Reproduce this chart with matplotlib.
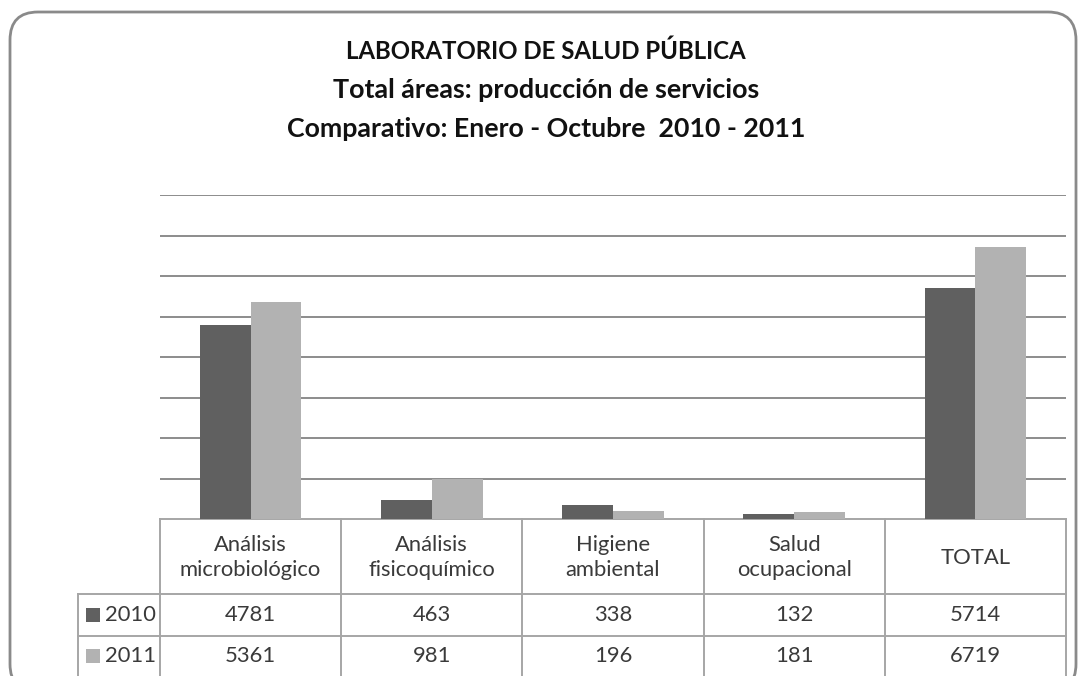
import numpy as np
import matplotlib.pyplot as plt
from matplotlib.patches import FancyBboxPatch, Rectangle

# data
categories = ['Análisis\nmicrobiológico', 'Análisis\nfisicoquímico', 'Higiene\nambiental',
              'Salud\nocupacional', 'TOTAL']
series_names = ['2010', '2011']
values_2010 = [4781, 463, 338, 132, 5714]
values_2011 = [5361, 981, 196, 181, 6719]
title_lines = ['LABORATORIO DE SALUD PÚBLICA',
               'Total áreas: producción de servicios',
               'Comparativo: Enero - Octubre  2010 - 2011']

colors = ['#606060', '#b2b2b2']
plt.rcParams['font.family'] = ['Lato', 'DejaVu Sans']

W, H = 1078, 676
fig = plt.figure(figsize=(W / 100, H / 100), dpi=100)

# overlay axes in pixel coordinates for frame, title and data table
ov = fig.add_axes([0, 0, 1, 1])
ov.set_xlim(0, W)
ov.set_ylim(H, 0)
ov.axis('off')

frame = FancyBboxPatch((10, 12), 1066, 680, boxstyle='round,pad=0,rounding_size=28',
                       facecolor='white', edgecolor='#8a8a8a', linewidth=2, zorder=0)
ov.add_patch(frame)

for txt, y, fs in zip(title_lines, [51, 90, 129], [17.3, 19.4, 19.3]):
    ov.text(W / 2 + 7, y, txt, ha='center', va='center', fontsize=fs,
            fontweight='bold', color='#111111')

# bar chart axes
left, right, top, base = 160, 1066, 195, 519
ax = fig.add_axes([left / W, 1 - base / H, (right - left) / W, (base - top) / H])
ax.set_facecolor('none')
n = len(categories)
x = np.arange(n) + 0.5
bw = 0.28
ax.bar(x - bw / 2, values_2010, bw, color=colors[0], zorder=3)
ax.bar(x + bw / 2, values_2011, bw, color=colors[1], zorder=3)
ax.set_xlim(0, n)
ax.set_ylim(0, 8000)
for g in range(1000, 8001, 1000):
    ax.axhline(g, color='#8c8c8c', linewidth=1.4, zorder=1)
for s in ax.spines.values():
    s.set_visible(False)
ax.set_xticks([])
ax.set_yticks([])

# data table
col_w = (right - left) / n
line_kw = dict(color='#a6a6a6', linewidth=1.4, zorder=2)
ov.plot([left, right], [base, base], **line_kw)
for yy in [594, 636]:
    ov.plot([78, right], [yy, yy], **line_kw)
for i in range(n + 1):
    ov.plot([left + i * col_w] * 2, [base, H], **line_kw)
ov.plot([78, 78], [594, H], **line_kw)

tcol = '#3a3a3a'
fs_t = 15.8
for i, cat in enumerate(categories):
    cx = left + (i + 0.5) * col_w
    ov.text(cx, (base + 594) / 2 + 1, cat, ha='center', va='center', fontsize=fs_t,
            color=tcol, linespacing=1.3)
    ov.text(cx, (594 + 636) / 2, str(values_2010[i]), ha='center', va='center',
            fontsize=fs_t, color=tcol)
    ov.text(cx, (636 + 676) / 2, str(values_2011[i]), ha='center', va='center',
            fontsize=fs_t, color=tcol)

for j, (name, yc) in enumerate(zip(series_names, [615, 656])):
    ov.add_patch(Rectangle((86, yc - 7), 14, 14, facecolor=colors[j], edgecolor='none'))
    ov.text(105, yc, name, ha='left', va='center', fontsize=fs_t, color=tcol)

fig.savefig('out.png', dpi=100)
